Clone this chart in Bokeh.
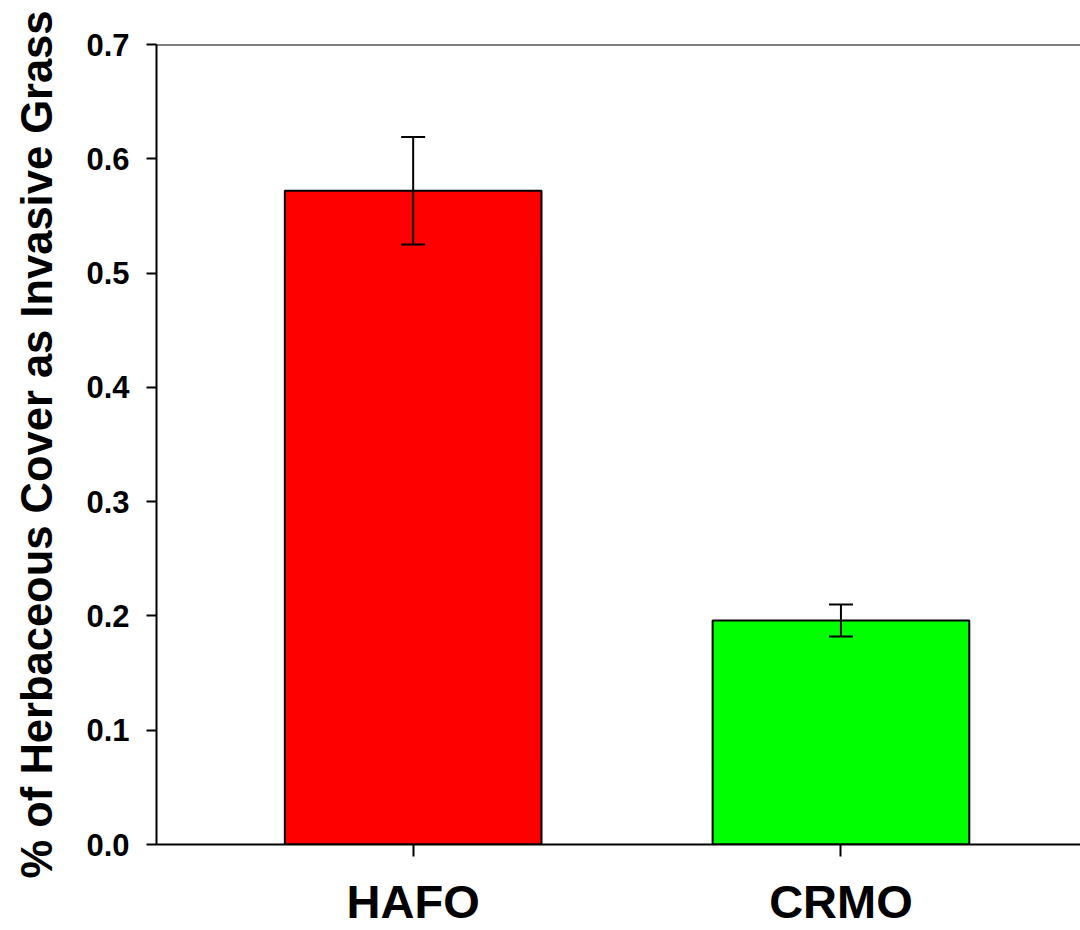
from bokeh.plotting import figure
from bokeh.models import (ColumnDataSource, Whisker, TeeHead, FixedTicker,
                          Span, Range1d)
from bokeh.embed import file_html
from bokeh.resources import INLINE

# Share of herbaceous cover made up of invasive grass, by park
sites = ["HAFO", "CRMO"]
mean_share = [0.572, 0.196]
std_err = [0.047, 0.014]
bar_colors = ["#ff0000", "#00ff00"]
y_ticks = [0.0, 0.1, 0.2, 0.3, 0.4, 0.5, 0.6, 0.7]

positions = [0.5 + i for i in range(len(sites))]
source = ColumnDataSource(dict(
    x=positions,
    top=mean_share,
    upper=[m + e for m, e in zip(mean_share, std_err)],
    lower=[m - e for m, e in zip(mean_share, std_err)],
    color=bar_colors,
))

FONT = "Liberation Sans"

p = figure(width=1080, height=930, output_backend="svg", toolbar_location=None,
           x_range=Range1d(-0.1, 2.06), y_range=Range1d(0, 0.7),
           min_border_left=156, min_border_right=0, min_border_top=44,
           min_border_bottom=86)
p.outline_line_color = None
p.grid.visible = False
p.background_fill_color = "white"
p.border_fill_color = "white"

p.vbar(x="x", top="top", width=0.6, bottom=0, source=source,
       fill_color="color", line_color="black", line_width=2)

# standard-error bars drawn over the bars
p.add_layout(Whisker(source=source, base="x", upper="upper", lower="lower",
                     level="overlay", line_color="black", line_width=2,
                     upper_head=TeeHead(size=24, line_color="black", line_width=2),
                     lower_head=TeeHead(size=24, line_color="black", line_width=2)))

# top border of the frame
p.add_layout(Span(location=0.7, dimension="width", line_color="black",
                  line_width=2))

# x axis
xa = p.xaxis[0]
xa.ticker = FixedTicker(ticks=positions)
xa.major_label_overrides = {pos: s for pos, s in zip(positions, sites)}
xa.major_tick_out = 12
xa.major_tick_in = 0
xa.minor_tick_line_color = None
xa.axis_line_width = 2
xa.major_tick_line_width = 2
xa.major_label_text_font = FONT
xa.major_label_text_font_style = "bold"
xa.major_label_text_font_size = "47px"
xa.major_label_text_color = "black"
xa.major_label_standoff = 18

# y axis
ya = p.yaxis[0]
ya.ticker = FixedTicker(ticks=y_ticks)
ya.major_label_overrides = {t: f"{t:.1f}" for t in y_ticks}
ya.major_tick_out = 10
ya.major_tick_in = 0
ya.minor_tick_line_color = None
ya.axis_line_width = 2
ya.major_tick_line_width = 2
ya.major_label_text_font = FONT
ya.major_label_text_font_style = "bold"
ya.major_label_text_font_size = "31px"
ya.major_label_text_color = "black"
ya.major_label_standoff = 17
ya.axis_label = "% of Herbaceous Cover as Invasive Grass"
ya.axis_label_text_font = FONT
ya.axis_label_text_font_style = "bold"
ya.axis_label_text_font_size = "43.5px"
ya.axis_label_text_color = "black"
ya.axis_label_standoff = 22

open("out.html", "w").write(file_html(p, INLINE))
